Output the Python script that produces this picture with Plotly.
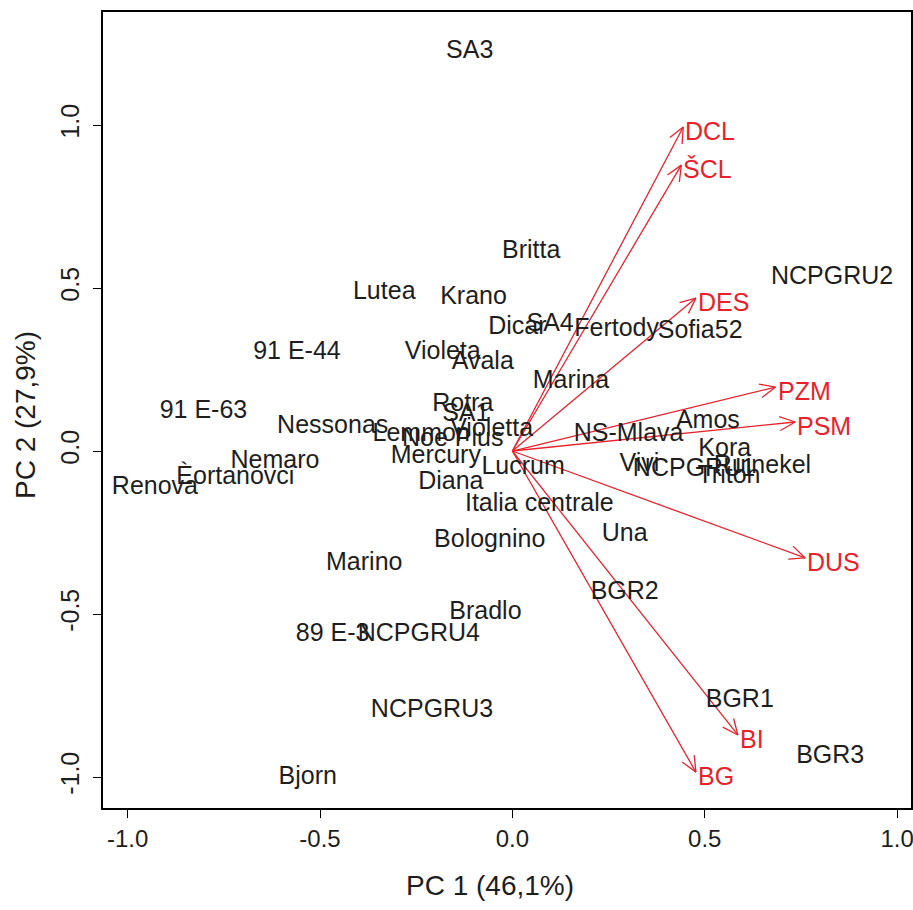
import numpy as np
import plotly.graph_objects as go

# ---- data: genotype scores (PC1, PC2) ----
genotypes = ["SA3", "Britta", "NCPGRU2", "Lutea", "Krano", "Dicar", "SA4", "Fertody", "Sofia52",
             "91 E-44", "Violeta", "Avala", "Marina", "91 E-63", "Nessonas", "Rotra", "SA1",
             "Violetta", "Lemmon", "Noe Plus", "Mercury", "Lucrum", "Diana", "Nemaro",
             "Èortanovci", "Renova", "Italia centrale", "NS-Mlava", "Amos", "Kora", "Vivi",
             "NCPGRU1", "Triton", "Ruinekel", "Una", "Bolognino", "Marino", "BGR2", "Bradlo",
             "89 E-3", "NCPGRU4", "NCPGRU3", "BGR1", "BGR3", "Bjorn"]
pc1 = [-0.111, 0.049, 0.831, -0.333, -0.101, 0.013, 0.098, 0.271, 0.488,
       -0.560, -0.181, -0.077, 0.152, -0.803, -0.467, -0.129, -0.121,
       -0.054, -0.237, -0.155, -0.199, 0.028, -0.160, -0.617,
       -0.720, -0.929, 0.070, 0.302, 0.508, 0.552, 0.330,
       0.472, 0.563, 0.650, 0.292, -0.059, -0.385, 0.292, -0.070,
       -0.467, -0.243, -0.209, 0.591, 0.826, -0.532]
pc2 = [1.224, 0.610, 0.531, 0.485, 0.469, 0.377, 0.387, 0.371, 0.365,
       0.301, 0.301, 0.270, 0.212, 0.120, 0.074, 0.141, 0.110,
       0.064, 0.049, 0.034, -0.018, -0.052, -0.098, -0.034,
       -0.083, -0.113, -0.166, 0.049, 0.089, 0.003, -0.043,
       -0.058, -0.080, -0.049, -0.258, -0.276, -0.347, -0.436, -0.497,
       -0.564, -0.564, -0.798, -0.767, -0.939, -1.003]

# ---- data: trait loadings ----
traits = ["DCL", "ŠCL", "DES", "PZM", "PSM", "DUS", "BI", "BG"]
load1 = [0.444, 0.439, 0.477, 0.684, 0.735, 0.761, 0.586, 0.477]
load2 = [0.994, 0.877, 0.469, 0.196, 0.089, -0.328, -0.871, -0.985]

x_ticks = [-1.0, -0.5, 0.0, 0.5, 1.0]
y_ticks = [-1.0, -0.5, 0.0, 0.5, 1.0]
x_title = "PC 1 (46,1%)"
y_title = "PC 2 (27,9%)"

# ---- layout geometry ----
W, H = 913, 910
ML, MR, MT, MB = 103, 2, 12, 102
XR = [-1.064, 1.036]
YR = [-1.095, 1.3466]
RED = "#e8222c"
INK = "#1e1e1e"
FONT = "Liberation Sans, Arial, sans-serif"

PW, PH = W - ML - MR, H - MT - MB
sx = PW / (XR[1] - XR[0])
sy = PH / (YR[1] - YR[0])

fig = go.Figure()

# arrows (shafts + open V heads computed in pixel space)
lx, ly = [], []
head_len, ang = 17.0, np.deg2rad(24)
for a, b in zip(load1, load2):
    lx += [0, a, None]
    ly += [0, b, None]
    dx, dy = a * sx, b * sy
    n = np.hypot(dx, dy)
    ux, uy = dx / n, dy / n
    for s in (1, -1):
        c, si = np.cos(s * ang), np.sin(s * ang)
        rx, ry = ux * c - uy * si, ux * si + uy * c
        hx = a - head_len * rx / sx
        hy = b - head_len * ry / sy
        lx += [a, hx, None]
        ly += [b, hy, None]
fig.add_trace(go.Scatter(x=lx, y=ly, mode="lines",
                         line=dict(color=RED, width=1.3),
                         hoverinfo="skip", showlegend=False))

# genotype labels
fig.add_trace(go.Scatter(x=pc1, y=pc2, mode="text", text=genotypes,
                         textposition="middle center",
                         textfont=dict(family=FONT, size=25, color=INK),
                         hoverinfo="text", showlegend=False))

# trait labels
for t, a, b in zip(traits, load1, load2):
    fig.add_annotation(x=a, y=b, text=t, showarrow=False, xanchor="left",
                       yanchor="middle", yshift=-4, xshift=0,
                       font=dict(family=FONT, size=25, color=RED))

# axis titles (placed as in the reference)
fig.add_annotation(text=x_title, xref="paper", yref="paper",
                   x=(490 - ML) / PW, y=(PH + MT - 885) / PH,
                   xanchor="center", yanchor="middle", showarrow=False,
                   font=dict(family=FONT, size=28, color=INK))
fig.add_annotation(text=y_title, xref="paper", yref="paper",
                   x=(25 - ML) / PW, y=(PH + MT - 415) / PH, textangle=-90,
                   xanchor="center", yanchor="middle", showarrow=False,
                   font=dict(family=FONT, size=28, color=INK))

fig.update_layout(
    width=W, height=H,
    margin=dict(l=ML, r=MR, t=MT, b=MB, autoexpand=False),
    plot_bgcolor="white", paper_bgcolor="white",
    font=dict(family=FONT, size=25, color=INK),
    xaxis=dict(range=XR, tickvals=x_ticks, ticktext=[f"{v:.1f}" for v in x_ticks],
               showgrid=False, zeroline=False, showline=True, linecolor="black",
               linewidth=1.5, mirror=True, ticks="outside", ticklen=8, tickwidth=1.2,
               tickcolor="black", tickfont=dict(size=24, color=INK),
               ticklabeloverflow="allow", automargin=False),
    yaxis=dict(range=YR, tickvals=y_ticks, ticktext=[f"{v:.1f}" for v in y_ticks],
               showgrid=False, zeroline=False, showline=True, linecolor="black",
               linewidth=1.5, mirror=True, ticks="outside", ticklen=8, tickwidth=1.2,
               tickcolor="black", tickangle=-90, tickfont=dict(size=25, color=INK),
               ticklabelstandoff=4, ticklabeloverflow="allow", automargin=False),
)

fig.write_html("out.html")
